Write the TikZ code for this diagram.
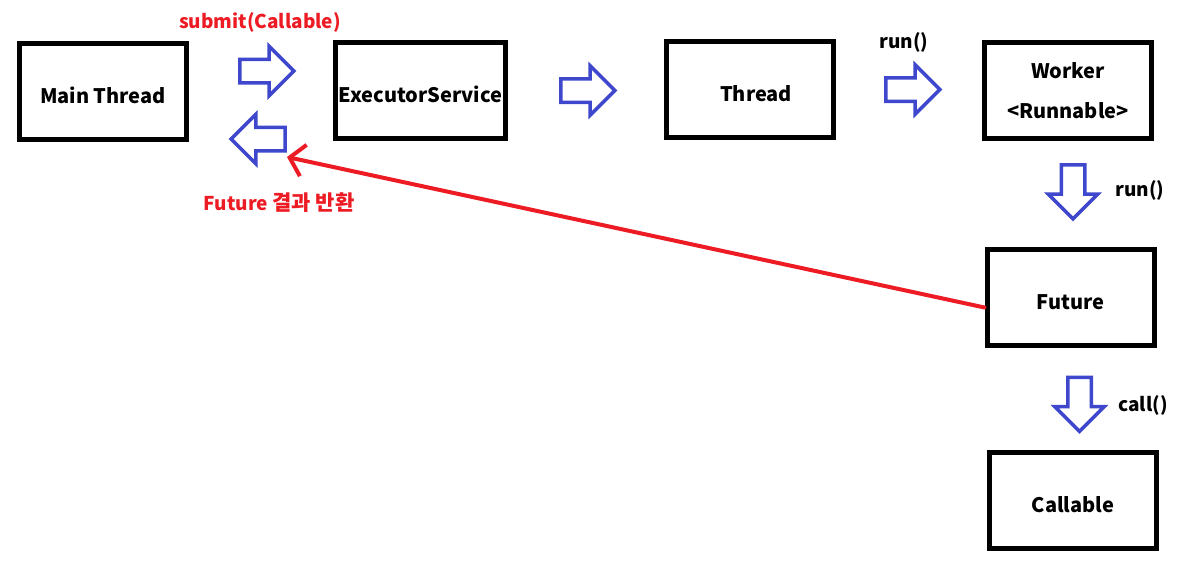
\documentclass[tikz,border=0pt]{standalone}
\usepackage{fontspec}
\setmainfont{Noto Sans CJK KR}
\usetikzlibrary{arrows.meta, positioning, shapes.arrows}
\definecolor{paintred}{HTML}{ED1C24}
\definecolor{paintblue}{HTML}{3F48CC}

\begin{document}
\begin{tikzpicture}[
  x=1pt, y=-1pt,
  box/.style  = {rectangle, draw=black, line width=5pt,
                 minimum width=167pt, minimum height=96pt,
                 text height=29pt, text depth=5pt,
                 font=\fontsize{20}{24}\selectfont\bfseries, align=center},
  blockarr/.style = {single arrow, draw=paintblue, line width=3.5pt,
                     minimum height=54pt, inner sep=10pt, outer sep=0pt,
                     single arrow head extend=13pt},
  lbl/.style  = {font=\fontsize{19}{22}\selectfont\bfseries, inner sep=0pt},
  redlbl/.style = {lbl, text=paintred},
  ret/.style  = {-{Straight Barb[length=14pt, width=32pt]}, draw=paintred,
                 line width=4pt, line cap=round}
]
\useasboundingbox (0,0) rectangle (1185,571);

\node[box] (main) at (103,91.5) {Main Thread};
\node[box] (exec) at (420.5,90.5) {ExecutorService};
\node[box] (thr) at (750,89) {\hspace{12pt}Thread};
\node[box, text height=, text depth=] (work) at (1068,90.5)
  {Worker\\[16pt]<Runnable>};
\node[box] (fut) at (1070.5,297.5) {Future};
\node[box] (call) at (1073,500.5) {Callable};

% block arrows
\node[blockarr] (sub) at (261,71) {};
\node[blockarr, shape border rotate=180] (back) at (264,139) {};
\node[blockarr] (toThr) at (582,90.5) {};
\node[blockarr] (toWork) at (907,89.5) {};
\node[blockarr, shape border rotate=270] (toFut) at (1073,186) {};
\node[blockarr, shape border rotate=270] (toCall) at (1079.5,398.5) {};

\node[redlbl] (subLbl) at (260,22) {submit(Callable)};
\node[lbl] (run1) at (904,42) {run()};
\node[lbl] (run2) at (1140,190) {run()};
\node[lbl] (callLbl) at (1143,405) {call()};
\node[redlbl] (retLbl) at (279,203)
  {Future {\fontsize{21}{24}\selectfont 결과 반환}};

% result back to main
\coordinate (retEnd) at (287,157);
\draw[ret] ([yshift=-10pt]fut.west) -- (retEnd);

\end{tikzpicture}
\end{document}
